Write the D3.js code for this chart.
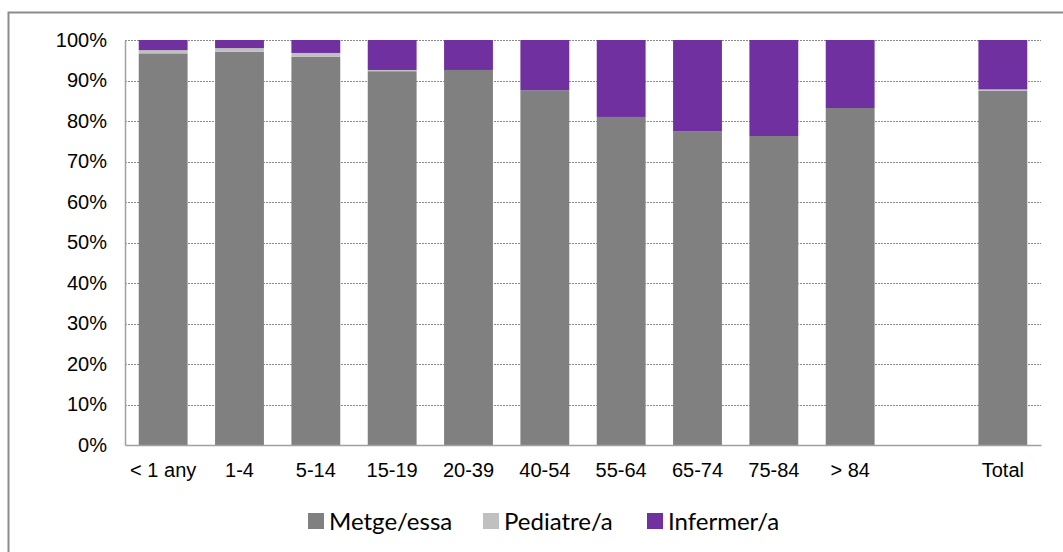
<!DOCTYPE html>
<html>
<head>
<meta charset="utf-8">
<script src="https://cdn.jsdelivr.net/npm/d3@7"></script>
<style>
  body { margin: 0; background: #fff; }
  .tick text { font-family: "Liberation Sans", Arial, sans-serif; font-size: 20px; fill: #000; }
  .legend text { font-family: Lato, "Open Sans", sans-serif; font-size: 24px; fill: #000; }
</style>
</head>
<body>
<script>
var w = 1063;
var h = 552;

// data (shares, %)
var categories = ["< 1 any", "1-4", "5-14", "15-19", "20-39", "40-54", "55-64", "65-74", "75-84", "> 84", "", "Total"];
var metge     = [96.7, 97.1, 95.9, 92.3, 92.6, 87.6, 81.0, 77.5, 76.3, 83.2, null, 87.5];
var pediatre  = [0.8, 0.9, 0.9, 0.3, 0.0, 0.0, 0.0, 0.0, 0.0, 0.0, null, 0.3];
var infermer  = [2.5, 2.0, 3.2, 7.4, 7.4, 12.4, 19.0, 22.5, 23.7, 16.8, null, 12.2];
var seriesNames = ["Metge/essa", "Pediatre/a", "Infermer/a"];
var yTicks = [0, 10, 20, 30, 40, 50, 60, 70, 80, 90, 100];

var colors = d3.scaleOrdinal()
               .domain(seriesNames)
               .range(["#808080", "#c0c0c0", "#7030a0"]);

var svg = d3.select('body')
            .append('svg')
            .attr('width', w)
            .attr('height', h);

// outer chart frame (runs off the picture on right and bottom)
svg.append('rect')
   .attr('x', 8.5).attr('y', 12.5)
   .attr('width', w + 20).attr('height', h + 20)
   .attr('fill', 'none')
   .attr('stroke', '#8c8c8c')
   .attr('stroke-width', 2);

var plotL = 125, plotR = 1041, plotT = 40, plotB = 445;

var x = d3.scaleBand()
          .domain(categories)
          .range([plotL, plotR])
          .paddingInner(0.36)
          .paddingOuter(0.18);

var y = d3.scaleLinear()
          .domain([0, 100])
          .range([plotB, plotT]);

// gridlines
svg.append('g')
   .selectAll('line')
   .data(yTicks.slice(1))
   .enter()
   .append('line')
   .attr('x1', plotL).attr('x2', plotR)
   .attr('y1', function(d){ return Math.round(y(d)) + 0.5; })
   .attr('y2', function(d){ return Math.round(y(d)) + 0.5; })
   .attr('stroke', '#8a8a8a')
   .attr('stroke-width', 1)
   .attr('stroke-dasharray', '2,1');

// stacked bars
var rows = categories.map(function(c, i){
    return { cat: c, "Metge/essa": metge[i], "Pediatre/a": pediatre[i], "Infermer/a": infermer[i] };
}).filter(function(d){ return d.cat !== ""; });

var stack = d3.stack().keys(seriesNames);
var layers = stack(rows);

svg.append('g')
   .selectAll('g')
   .data(layers)
   .enter()
   .append('g')
   .attr('fill', function(d){ return colors(d.key); })
   .selectAll('rect')
   .data(function(d){ return d; })
   .enter()
   .append('rect')
   .attr('x', function(d){ return x(d.data.cat); })
   .attr('width', x.bandwidth())
   .attr('y', function(d){ return y(d[1]); })
   .attr('height', function(d){ return y(d[0]) - y(d[1]); });

// axes
var yAxis = d3.axisLeft(y)
              .tickValues(yTicks)
              .tickFormat(function(d){ return d + '%'; })
              .tickSize(0)
              .tickPadding(18);

var gy = svg.append('g')
            .attr('transform', 'translate(' + plotL + ',0)')
            .call(yAxis);
gy.select('.domain').attr('stroke', '#a0a0a0').attr('stroke-width', 1.5);

var xAxis = d3.axisBottom(x)
              .tickSize(0)
              .tickPadding(18);

var gx = svg.append('g')
            .attr('transform', 'translate(0,' + plotB + ')')
            .call(xAxis);
gx.select('.domain').attr('stroke', '#a0a0a0').attr('stroke-width', 1.5);

// legend
var legendPos = [308, 483, 647];
var legend = svg.append('g').attr('class', 'legend');
var items = legend.selectAll('g')
                  .data(seriesNames)
                  .enter()
                  .append('g')
                  .attr('transform', function(d, i){ return 'translate(' + legendPos[i] + ',513)'; });
items.append('rect')
     .attr('width', 16).attr('height', 16)
     .attr('fill', function(d){ return colors(d); });
items.append('text')
     .attr('x', 21)
     .attr('y', 17)
     .text(function(d){ return d; });
</script>
</body>
</html>
